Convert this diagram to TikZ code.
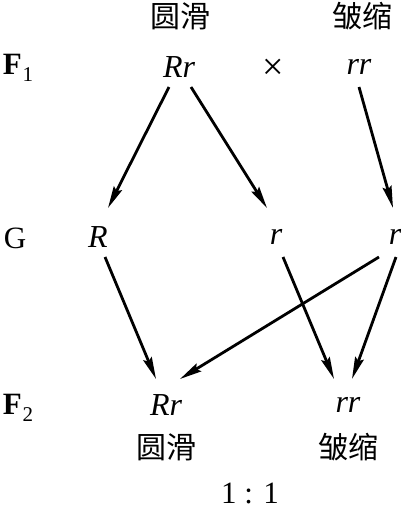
\documentclass[tikz,border=0pt]{standalone}
\usepackage{fontspec}
\setmainfont{Liberation Serif}
\newfontfamily\cjk{Noto Sans CJK SC}
\usetikzlibrary{arrows.meta}
\tikzset{
  gen/.style={font=\fontsize{32}{32}\selectfont\itshape, inner sep=0pt},
  fila/.style={font=\fontsize{31}{31}\selectfont, inner sep=0pt},
  rasgo/.style={font=\fontsize{30}{30}\selectfont\cjk, inner sep=0pt},
  flecha/.style={line width=2.8pt, -{Stealth[length=22pt,width=9pt,inset=3pt]}}
}
\begin{document}
\begin{tikzpicture}[x=1pt,y=-1pt]
        \useasboundingbox (0,0) rectangle (401,512);

        % Fenotipos de los padres
        \node[rasgo] (t1) at (180,16) {圆滑};
        \node[rasgo] (t2) at (362,16) {皱缩};

        % Filas
        \node[fila] (lF1) at (18,68) {\textbf{F}\kern1pt\raisebox{-7pt}{\fontsize{21}{21}\selectfont 1}};
        \node[fila] (lG) at (15,238) {G};
        \node[fila] (lF2) at (18,408) {\textbf{F}\kern1pt\raisebox{-7pt}{\fontsize{21}{21}\selectfont 2}};

        % Padres
        \node[gen] (p1) at (179,67) {Rr};
        \node[fila, font=\fontsize{38}{38}\selectfont] (x) at (273,69) {×};
        \node[gen] (p2) at (359,67) {rr};

        % Gametos
        \node[gen] (gR) at (98,237) {R};
        \node[gen] (gr1) at (276,237) {r};
        \node[gen] (gr2) at (395,237) {r};

        % Hijos
        \node[gen] (o1) at (166,405) {Rr};
        \node[gen] (o2) at (348,405) {rr};
        \node[rasgo] (b1) at (166,447) {圆滑};
        \node[rasgo] (b2) at (348,447) {皱缩};
        \node[fila] (ratio) at (250,493) {1 : 1};

        % Flechas
        \draw[flecha] ([shift={(-10,20)}]p1.center) -- ([shift={(10,-29)}]gR.center);
        \draw[flecha] ([shift={(12,20)}]p1.center) -- ([shift={(-9,-29)}]gr1.center);
        \draw[flecha] ([shift={(0,20)}]p2.center) -- ([shift={(-2,-29)}]gr2.center);
        \draw[flecha] ([shift={(7,20)}]gR.center) -- ([shift={(-10,-26)}]o1.center);
        \draw[flecha] ([shift={(7,20)}]gr1.center) -- ([shift={(-14,-26)}]o2.center);
        \draw[flecha] ([shift={(-16,20)}]gr2.center) -- ([shift={(14,-26)}]o1.center);
        \draw[flecha] ([shift={(1,20)}]gr2.center) -- ([shift={(4,-26)}]o2.center);
    \end{tikzpicture}
\end{document}
